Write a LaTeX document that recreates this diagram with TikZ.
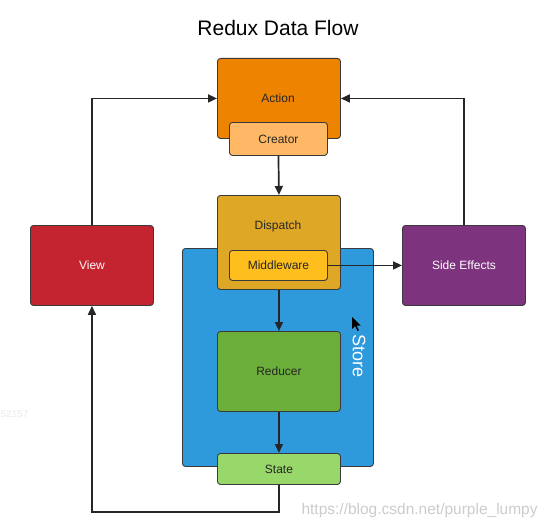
\documentclass[tikz,border=0pt]{standalone}
\usepackage{fontspec}
\setmainfont{Liberation Sans}
\usetikzlibrary{arrows.meta}
\definecolor{actionc}{HTML}{EE8300}
\definecolor{creatorc}{HTML}{FFB966}
\definecolor{dispatchc}{HTML}{DEA726}
\definecolor{middlec}{HTML}{FDBE1E}
\definecolor{storec}{HTML}{2E9ADB}
\definecolor{reducerc}{HTML}{6BAF3A}
\definecolor{statec}{HTML}{98D76A}
\definecolor{viewc}{HTML}{C42430}
\definecolor{sidec}{HTML}{7D337E}
\definecolor{edgec}{HTML}{3A3A3A}
\tikzset{
  box/.style={draw=edgec, line width=0.9pt, rounded corners=3pt, minimum width=123pt, minimum height=80pt, inner sep=0pt, font=\fontsize{12}{14}\selectfont, text=black!85},
  sub/.style={box, minimum width=98pt, minimum height=31pt},
  conn/.style={line width=1.7pt, black!85, -{Triangle[length=9pt,width=8pt]}},
  plain/.style={line width=1.7pt, black!85}
}
\begin{document}
\begin{tikzpicture}[x=1pt,y=-1pt]
\useasboundingbox (0,0) rectangle (551,527);
\fill[white] (0,0) rectangle (551,527);
\node[font=\fontsize{21}{25}\selectfont] (title) at (278,28) {Redux Data Flow};
% store
\node[box, fill=storec, minimum width=191pt, minimum height=218pt, anchor=north west] (store) at (182,248) {};
\node[rotate=-90, text=white, font=\fontsize{18}{21}\selectfont] (storelbl) at (359,356) {Store};
% action
\node[box, fill=actionc, minimum height=80pt, anchor=north west] (action) at (217,58) {};
\node[font=\fontsize{12}{14}\selectfont, text=black!85] (actionlbl) at (278,98) {Action};
\node[sub, fill=creatorc, minimum height=33pt, anchor=north west] (creator) at (229,122) {Creator};
% dispatch
\node[box, fill=dispatchc, minimum height=94pt, anchor=north west] (dispatch) at (217,195) {};
\node[font=\fontsize{12}{14}\selectfont, text=black!85] (displbl) at (278,226) {Dispatch};
\node[sub, fill=middlec, minimum height=30pt, anchor=north west] (middle) at (229,250) {Middleware};
% reducer
\node[box, fill=reducerc, anchor=north west] (reducer) at (217,331) {Reducer};
% state
\node[box, fill=statec, minimum height=31pt, anchor=north west] (state) at (217,453) {State};
% view
\node[box, fill=viewc, anchor=north west, text=white!90!pink] (view) at (30,225) {View};
% side effects
\node[box, fill=sidec, anchor=north west, text=white] (side) at (402,225) {Side Effects};
% connectors
\draw[conn] (creator.south) -- (dispatch.north);
\draw[conn] (dispatch.south) -- (reducer.north);
\draw[conn] (reducer.south) -- (state.north);
\draw[conn] (middle.east) -- (side.west);
\draw[conn] (side.north) |- (action.east);
\draw[conn] (view.north) |- (action.west);
\coordinate (bl) at (92,512);
\draw[conn] (state.south) |- (bl) -- (view.south);
% cursor
\fill[black] (352,317) -- (352,329) -- (355,326) -- (357.5,331) -- (359,330.3) -- (356.6,325.5) -- (360.5,325.5) -- cycle;
% watermarks
\node[text=black!20, font=\fontsize{15.5}{18}\selectfont, anchor=west] (wm) at (298,510) {https://blog.csdn.net/purple\_lumpy};
\node[text=black!6, font=\bfseries\fontsize{10}{12}\selectfont, anchor=west] (wm2) at (-3,414) {52157};
\end{tikzpicture}
\end{document}
